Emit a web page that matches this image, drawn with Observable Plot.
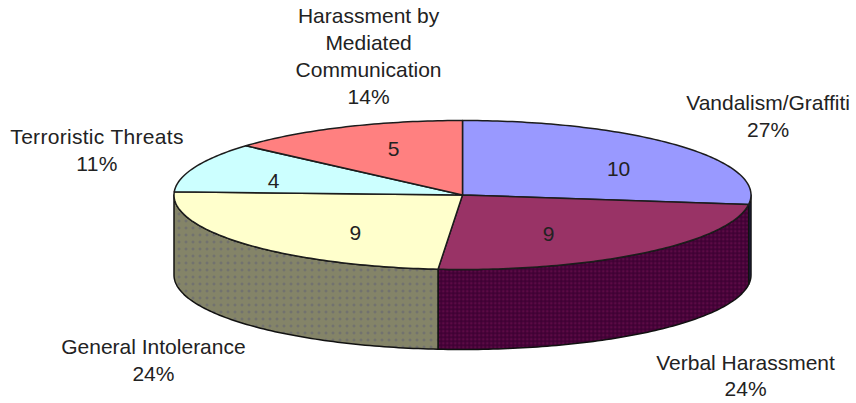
<!DOCTYPE html>
<html>
<head>
<meta charset="utf-8">
<style>html,body{margin:0;padding:0;background:#fff}svg{display:block}</style>
<script src="https://cdn.jsdelivr.net/npm/d3@7"></script>
<script src="https://cdn.jsdelivr.net/npm/@observablehq/plot@0.6"></script>
</head>
<body>
<script>
const categories = ["Vandalism/Graffiti","Verbal Harassment","General Intolerance","Terroristic Threats","Harassment by\nMediated\nCommunication"];
const counts = [10, 9, 9, 4, 5];
const percents = ["27%","24%","24%","11%","14%"];
const topColors = ["#9999FF","#993366","#FFFFCC","#CCFFFF","#FF8080"];
const sideColors = ["url(#sBlue)","url(#sMaroon)","url(#sOlive)","none","none"];

// layout: px nudges from each slice's mid-rim point
const countNudge = [[-60.5,23.7],[-95.2,-18.5],[109.5,-10.7],[78.7,14.3],[49.9,22.4]];
const nameNudge = [[89,-30.8],[101.8,121.5],[-92.5,114.3],[-97.8,-18.7],[24.9,-72.1]];

const tilt = 74.5, depth = 80, R = 288.5;
const D = Math.PI / 180;
const total = d3.sum(counts);
let acc = 0;
const slices = counts.map((c, i) => {
  const a0 = acc / total * 2 * Math.PI; acc += c;
  const a1 = acc / total * 2 * Math.PI;
  return {i, a0, a1, mid: (a0 + a1) / 2};
});
const rim = (a, drop = 0) => ({x: Math.sin(a), y: Math.cos(a) - drop});
const arc = (a0, a1, drop) => {
  const n = Math.max(2, Math.ceil((a1 - a0) / D));
  return d3.range(n + 1).map(k => rim(a0 + (a1 - a0) * k / n, drop));
};
const drop = depth / tilt;
const topShape = s => [{x: 0, y: 0}, ...arc(s.a0, s.a1, 0), {x: 0, y: 0}];
const wallShape = s => {
  const a0 = Math.max(s.a0, Math.PI / 2), a1 = Math.min(s.a1, 1.5 * Math.PI);
  if (a1 <= a0) return null;
  const t = arc(a0, a1, 0), b = arc(a0, a1, drop).reverse();
  return [...t, ...b, t[0]];
};

const font = {fontFamily: "Liberation Sans, Arial, sans-serif", fontSize: 21, fill: "#222"};
const walls = slices.filter(wallShape).map(s =>
  Plot.line(wallShape(s), {x: "x", y: "y", fill: sideColors[s.i], stroke: "#111", strokeWidth: 1.5}));
const tops = slices.map(s =>
  Plot.line(topShape(s), {x: "x", y: "y", fill: topColors[s.i], stroke: "#1c1c1c", strokeWidth: 1.5}));
const countLabels = slices.map(s => Plot.text([s], {
  x: d => Math.sin(d.mid), y: d => Math.cos(d.mid),
  text: d => String(counts[d.i]),
  dx: countNudge[s.i][0], dy: countNudge[s.i][1], ...font
}));
const nameLabels = slices.map(s => Plot.text([s], {
  x: d => Math.sin(d.mid), y: d => Math.cos(d.mid),
  text: d => categories[d.i] + "\n" + percents[d.i],
  dx: nameNudge[s.i][0], dy: nameNudge[s.i][1],
  lineHeight: 1.28, ...font
}));

const plot = Plot.plot({
  width: 856, height: 403,
  margin: 0,
  x: {domain: [-1, 1], range: [462 - R, 462 + R], axis: null},
  y: {domain: [-1, 1], range: [194.5 + tilt, 194.5 - tilt], axis: null},
  style: {background: "#fff"},
  marks: [...walls, ...tops, ...countLabels, ...nameLabels]
});

plot.querySelectorAll("text").forEach(t => {
  if (t.textContent.includes("Terroristic")) t.style.letterSpacing = "0.3px";
});

const ns = "http://www.w3.org/2000/svg";
const defs = document.createElementNS(ns, "defs");
defs.innerHTML = `
<pattern id="sMaroon" width="4" height="4" patternUnits="userSpaceOnUse">
 <rect width="4" height="4" fill="#5c0a45"/><rect width="4" height="1.4" fill="#3c0032"/><rect width="1.4" height="4" fill="#3c0032"/>
</pattern>
<pattern id="sOlive" width="7" height="7" patternUnits="userSpaceOnUse">
 <rect width="7" height="7" fill="#848468"/><rect x="2" y="3" width="3" height="1" fill="#6c6c70"/><rect x="3" y="2" width="1" height="3" fill="#6c6c70"/>
</pattern>
<pattern id="sBlue" width="2" height="2" patternUnits="userSpaceOnUse">
 <rect width="2" height="2" fill="#2a2a66"/>
</pattern>`;
plot.insertBefore(defs, plot.firstChild);
document.body.appendChild(plot);
</script>
</body>
</html>
